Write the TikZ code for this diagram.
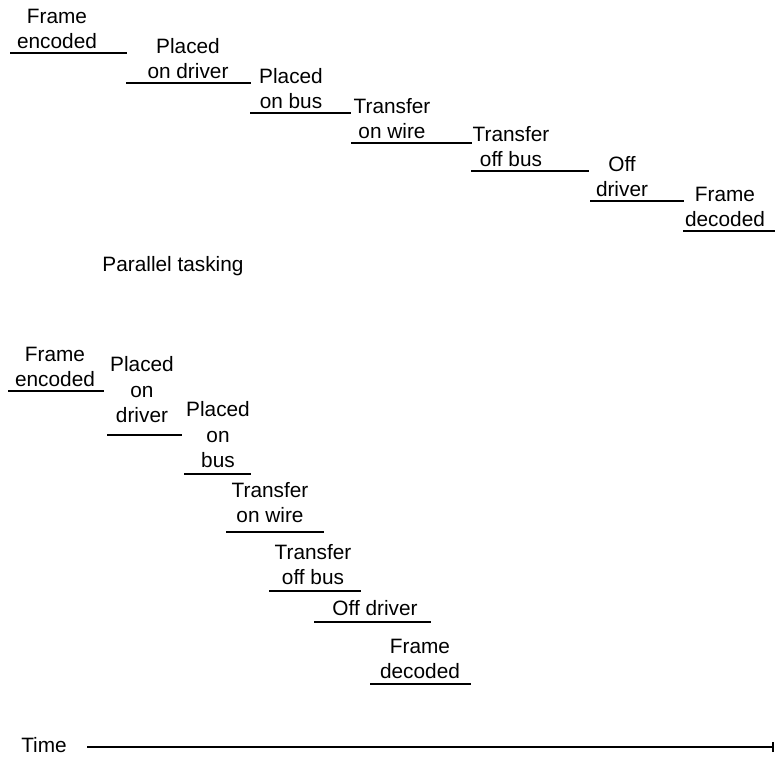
\documentclass[tikz,border=0pt]{standalone}
\usepackage{fontspec}
\setmainfont{Liberation Sans}
\begin{document}
\begin{tikzpicture}[x=1pt,y=-1pt,
  lbl/.style={font=\fontsize{20.8}{25.5}\selectfont, align=center, inner sep=0pt, anchor=south},
  plain/.style={font=\fontsize{20.8}{25.5}\selectfont, inner sep=0pt},
  rule/.style={line width=1.2pt}]
\useasboundingbox (0,0) rectangle (775,757);
% serial
\node[lbl] (t1) at (57,49) {Frame\\encoded};
\node[lbl] (t2) at (188,79) {Placed\\on driver};
\node[lbl] (t3) at (291,109) {Placed\\on bus};
\node[lbl] (t4) at (392,139) {Transfer\\on wire};
\node[lbl] (t5) at (511,167) {Transfer\\off bus};
\node[lbl] (t6) at (622,197) {Off\\driver};
\node[lbl] (t7) at (725,227) {Frame\\decoded};
\draw[rule] (10,53) -- (127,53);
\draw[rule] (126,83) -- (251,83);
\draw[rule] (250,113) -- (351,113);
\draw[rule] (351,143) -- (472,143);
\draw[rule] (471,171) -- (589,171);
\draw[rule] (590,201) -- (684,201);
\draw[rule] (683,231) -- (775,231);
\node[plain] (pt) at (173,266) {Parallel tasking};
% parallel
\node[lbl] (b1) at (55,387) {Frame\\encoded};
\node[lbl] (b2) at (142,423) {Placed\\on\\driver};
\node[lbl] (b3) at (218,468) {Placed\\on\\bus};
\node[lbl] (b4) at (270,523) {Transfer\\on wire};
\node[lbl] (b5) at (313,585) {Transfer\\off bus};
\node[lbl] (b6) at (375,616) {Off driver};
\node[lbl] (b7) at (420,679) {Frame\\decoded};
\draw[rule] (8,391) -- (104,391);
\draw[rule] (107,435) -- (182,435);
\draw[rule] (184,474) -- (251,474);
\draw[rule] (226,532) -- (324,532);
\draw[rule] (269,591) -- (361,591);
\draw[rule] (314,622) -- (431,622);
\draw[rule] (370,684) -- (471,684);
% time axis
\node[plain] (time) at (44,745) {Time};
\coordinate (ts) at (87,747);
\coordinate (te) at (773,747);
\draw[rule] (ts) -- (te);
\draw[rule] ([yshift=-5pt]te) -- ([yshift=5pt]te);
\end{tikzpicture}
\end{document}
